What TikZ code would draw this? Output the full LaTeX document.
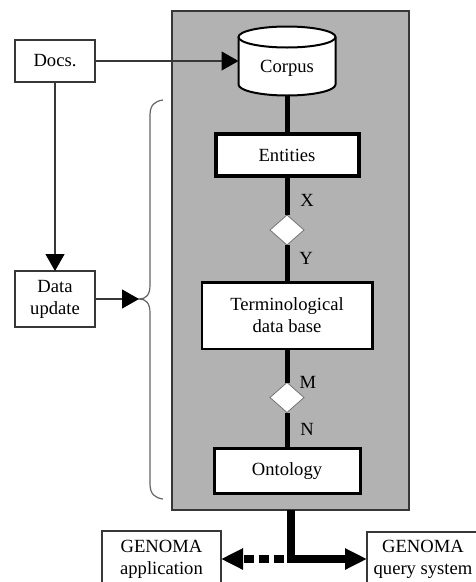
\documentclass[tikz,border=0pt]{standalone}
\usepackage{fontspec}
\setmainfont{Liberation Serif}
\usetikzlibrary{shapes.geometric,arrows.meta}
\definecolor{panelgray}{RGB}{178,178,178}
\definecolor{edge}{RGB}{55,55,55}
\definecolor{bracegray}{RGB}{100,100,100}
\begin{document}
\begin{tikzpicture}[x=1pt,y=-1pt,
  font=\fontsize{18.6pt}{22pt}\selectfont,
  every node/.style={inner sep=0pt, outer sep=0pt},
  panel/.style={draw=edge, line width=1.3pt, fill=panelgray},
  plainbox/.style={draw=edge, line width=1.3pt, fill=white, align=center},
  heavybox/.style={draw=black, fill=white, align=center},
  joint/.style={diamond, draw=edge!70, line width=0.8pt, fill=white,
    minimum width=34pt, minimum height=30pt},
  cylline/.style={draw=black, line width=2pt, fill=white},
  link/.style={draw=black, line width=5pt},
  biglink/.style={draw=black, line width=8pt, line join=miter},
  thinarrow/.style={draw=edge, line width=1.2pt,
    -{Triangle[length=17pt,width=19pt,black]}},
  bigtip/.style={-{Triangle[length=22pt,width=20pt]}},
  bigtail/.style={{Triangle[length=22pt,width=20pt]}-},
]
\useasboundingbox (0,0) rectangle (476,582);
\clip (0,0) rectangle (476,582);

% grey panel holding the knowledge stack
\node[panel, minimum width=237pt, minimum height=499pt] (panel) at (290.5,260.5) {};

% corpus cylinder
\path[cylline] (238.5,37) -- (238.5,84.5)
  arc[start angle=180, end angle=360, x radius=48.5pt, y radius=11pt]
  -- (335.5,37);
\draw[cylline] (287,37) ellipse[x radius=48.5pt, y radius=10.5pt];
\node[minimum width=97pt, minimum height=69pt, text height=23pt, text depth=0pt]
  (corpus) at (287,61) {Corpus};

% stack of stores
\node[heavybox, line width=4pt, minimum width=143pt, minimum height=42pt]
  (entities) at (287,155) {Entities};
\node[joint] (xy) at (287,230) {};
\node[heavybox, line width=2.5pt, minimum width=170.5pt, minimum height=66.5pt]
  (term) at (287,315.5) {Terminological\\data base};
\node[joint] (mn) at (287,397.5) {};
\node[heavybox, line width=3pt, minimum width=146pt, minimum height=45pt]
  (onto) at (287,471) {Ontology};

\draw[link] (corpus.south) -- (entities.north);
\draw[link] (entities.south) -- (xy.north);
\draw[link] (xy.south) -- (term.north);
\draw[link] (term.south) -- (mn.north);
\draw[link] (mn.south) -- (onto.north);

% cardinality labels
\node (lx) at (307,200) {X};
\node (ly) at (306,258.5) {Y};
\node (lm) at (308,382.5) {M};
\node (ln) at (307,429) {N};

% inputs on the left
\node[plainbox, minimum width=80pt, minimum height=42pt] (docs) at (55,61) {Docs.};
\node[plainbox, minimum width=80pt, minimum height=56pt] (update) at (55,299) {Data\\update};

% brace spanning the stack
\coordinate (bracetip) at (139,299);
\draw[bracegray, line width=1.2pt]
  (163,100) .. controls (155,101) and (150,105) .. (150,115)
  -- (150,285) .. controls (150,295) and (146,299) .. (bracetip)
  .. controls (146,299) and (150,303) .. (150,313)
  -- (150,484) .. controls (150,494) and (155,498) .. (163,499);

\draw[thinarrow] (docs) -- (corpus);
\draw[thinarrow] (docs) -- (update);
\draw[thinarrow] (update) -- (bracetip);

% outputs at the bottom
\node[plainbox, anchor=north, minimum width=119pt, minimum height=56pt]
  (app) at (161.5,531) {GENOMA\\application};
\node[plainbox, anchor=north west, minimum width=112pt, minimum height=54pt]
  (query) at (367,532) {GENOMA\\query system};

\draw[biglink, bigtip] (panel.south) |- (query.west);
\draw[biglink, bigtail, dash pattern=on 10pt off 5pt, dash phase=13pt]
  (app.east) -- (panel.south |- query.west);
\end{tikzpicture}
\end{document}
